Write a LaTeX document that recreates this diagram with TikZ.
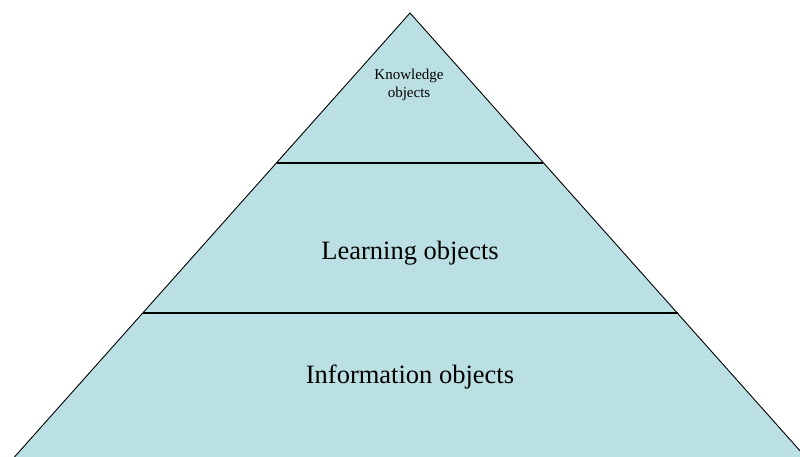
\documentclass[tikz,border=0pt]{standalone}
\usepackage{fontspec}
\setmainfont{Liberation Serif}
\definecolor{layerfill}{RGB}{187,224,227}
\begin{document}
\begin{tikzpicture}[x=1pt,y=-1pt,
  outline/.style={draw=black,line width=0.9pt,line join=miter},
  divider/.style={draw=black,line width=1.8pt},
  biglabel/.style={font=\fontsize{26.5}{30}\selectfont,inner sep=0pt},
  smalllabel/.style={font=\fontsize{15}{18}\selectfont,inner sep=0pt,align=center}]
  \useasboundingbox (0,0) rectangle (800,457);
  \clip (0,0) rectangle (800,457);
  % pyramid corners
  \coordinate (apex) at (410,13);
  \coordinate (bl) at (10,462);
  \coordinate (br) at (810,462);
  \fill[layerfill] (apex) -- (bl) -- (br) -- cycle;
  \draw[outline] (bl) -- (apex) -- (br);
  % layer dividers
  \coordinate (d1l) at (277,163);
  \coordinate (d1r) at (543,163);
  \coordinate (d2l) at (143,313);
  \coordinate (d2r) at (678,313);
  \draw[divider] (d1l) -- (d1r);
  \draw[divider] (d2l) -- (d2r);
  % layer labels
  \node[smalllabel] (know) at (409,85) {Knowledge\\objects};
  \node[biglabel] (learn) at (410,253) {Learning objects};
  \node[biglabel] (info) at (410,377) {Information objects};
\end{tikzpicture}
\end{document}
